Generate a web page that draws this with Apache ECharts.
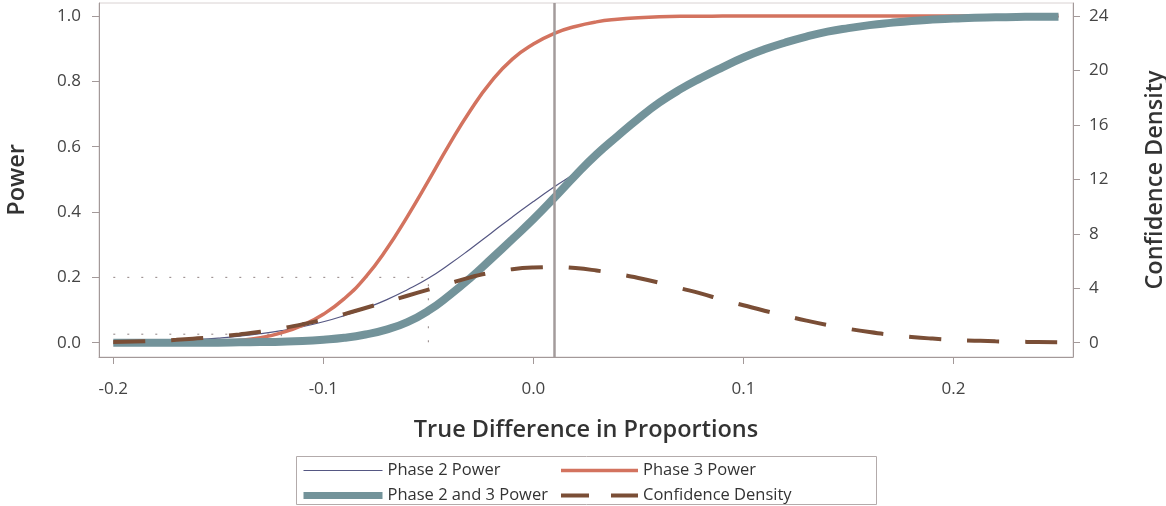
<!DOCTYPE html>
<html><head><meta charset="utf-8">
<script src="https://cdn.jsdelivr.net/npm/echarts@6/dist/echarts.min.js"></script>
<style>html,body{margin:0;padding:0;background:#fff}#c{width:1166px;height:506px}</style>
</head><body><div id="c"></div>
<script>
// x grid: true difference in proportions
const xValues = [-0.20,-0.19,-0.18,-0.17,-0.16,-0.15,-0.14,-0.13,-0.12,-0.11,-0.10,-0.09,-0.08,-0.07,-0.06,-0.05,-0.04,-0.03,-0.02,-0.01,0.00,0.01,0.02,0.03,0.04,0.05,0.06,0.07,0.08,0.09,0.10,0.11,0.12,0.13,0.14,0.15,0.16,0.17,0.18,0.19,0.20,0.21,0.22,0.23,0.24,0.25];
const phase2Power = [0.0017,0.0027,0.0042,0.0064,0.0097,0.0142,0.020,0.0275,0.037,0.049,0.064,0.083,0.105,0.131,0.162,0.197,0.240,0.287,0.336,0.385,0.432,0.477,0.520,0.574,0.632,0.686,0.735,0.776,0.811,0.843,0.873,0.898,0.919,0.937,0.952,0.963,0.972,0.979,0.985,0.989,0.992,0.995,0.996,0.997,0.998,0.998];
const phase3Power = [0.0000,0.0001,0.0003,0.0007,0.0015,0.0035,0.007,0.015,0.030,0.053,0.087,0.135,0.200,0.285,0.386,0.495,0.607,0.711,0.800,0.868,0.914,0.947,0.968,0.982,0.990,0.995,0.998,0.999,0.999,1.000,1.000,1.000,1.000,1.000,1.000,1.000,1.000,1.000,1.000,1.000,1.000,1.000,1.000,1.000,1.000,1.000];
const phase23Power = [0.000,0.000,0.000,0.000,0.000,0.000,0.001,0.002,0.003,0.005,0.009,0.015,0.025,0.040,0.063,0.098,0.145,0.198,0.257,0.317,0.378,0.444,0.512,0.576,0.632,0.686,0.735,0.776,0.811,0.843,0.873,0.898,0.919,0.937,0.952,0.963,0.972,0.979,0.985,0.989,0.992,0.995,0.996,0.997,0.998,0.998];
const confDensity = [0.05,0.08,0.13,0.21,0.32,0.45,0.61,0.80,1.05,1.35,1.70,2.10,2.55,3.00,3.45,3.90,4.35,4.80,5.15,5.40,5.52,5.55,5.48,5.30,5.05,4.75,4.40,4.00,3.60,3.15,2.75,2.35,1.98,1.62,1.30,1.02,0.78,0.58,0.42,0.30,0.21,0.15,0.10,0.07,0.05,0.03];
// reference (dotted) guide lines and observed difference
const refLine1 = [[-0.2,0.2],[-0.05,0.2],[-0.05,0.0]];
const refLine2 = [[-0.2,0.026],[-0.12,0.026],[-0.12,0.0]];
const observedDiff = 0.01;
const xTicks = [-0.2,-0.1,0,0.1,0.2];
const yTicks = [0,0.2,0.4,0.6,0.8,1.0];
const y2Ticks = [0,4,8,12,16,20,24];

const FONT = 'Open Sans';
const C_P2 = '#555783', C_P3 = '#d3735f', C_P23 = '#73939a', C_CD = '#7a4e36';
const pair = a => xValues.map((x,i)=>[x,a[i]]);
const axisLineColor = '#a39999';
const chart = echarts.init(document.getElementById('c'), null, {renderer:'canvas'});
const legendCommon = {orient:'vertical',top:462,itemHeight:16,itemGap:8,padding:0,
  itemStyle:{opacity:0,borderWidth:0},
  textStyle:{fontFamily:FONT,fontSize:16.5,color:'#333'}};
chart.setOption({
  animation:false,
  backgroundColor:'#fff',
  grid:{left:99,right:93,top:3,bottom:149,show:true,borderColor:'#d9d2d2',borderWidth:1,backgroundColor:'#fff',
        outerBoundsMode:'none',containLabel:false},
  xAxis:{type:'value',min:-0.2068,max:0.2569,
    name:'True Difference in Proportions',nameLocation:'middle',nameGap:61,
    nameTextStyle:{fontFamily:FONT,fontSize:23.5,color:'#333',fontWeight:600},
    axisLine:{show:true,onZero:false,lineStyle:{color:axisLineColor,width:1}},
    axisTick:{show:true,length:7,lineStyle:{color:axisLineColor},customValues:xTicks},
    axisLabel:{customValues:xTicks,margin:24,fontFamily:FONT,fontSize:17,color:'#444',formatter:v=>v.toFixed(1)},
    splitLine:{show:false}},
  yAxis:[
    {type:'value',min:-0.0438,max:1.0398,position:'left',
     name:'Power',nameLocation:'middle',nameGap:70,nameRotate:90,
     nameTextStyle:{fontFamily:FONT,fontSize:23.5,color:'#333',fontWeight:600},
     axisLine:{show:true,onZero:false,lineStyle:{color:axisLineColor}},
     axisTick:{show:true,length:7,lineStyle:{color:axisLineColor},customValues:yTicks},
     axisLabel:{customValues:yTicks,margin:18,fontFamily:FONT,fontSize:17,color:'#444',formatter:v=>v.toFixed(1)},
     splitLine:{show:false}},
    {type:'value',min:-1.051,max:24.955,position:'right',
     name:'Confidence Density',nameLocation:'middle',nameGap:70,nameRotate:90,
     nameTextStyle:{fontFamily:FONT,fontSize:23.5,color:'#333',fontWeight:600},
     axisLine:{show:true,onZero:false,lineStyle:{color:axisLineColor}},
     axisTick:{show:true,length:7,lineStyle:{color:axisLineColor},customValues:y2Ticks},
     axisLabel:{customValues:y2Ticks,margin:16,fontFamily:FONT,fontSize:17,color:'#444',formatter:v=>String(v)},
     splitLine:{show:false}}
  ],
  legend:[
    Object.assign({left:300,itemWidth:79,data:[
      {name:'Phase 2 Power',lineStyle:{width:1.2,color:C_P2}},
      {name:'Phase 2 and 3 Power',lineStyle:{width:7,color:C_P23}}]},legendCommon),
    Object.assign({left:559,itemWidth:77,data:[
      {name:'Phase 3 Power',lineStyle:{width:3.5,color:C_P3}},
      {name:'Confidence Density',lineStyle:{type:[28,22],width:4,color:C_CD}}]},legendCommon)
  ],
  graphic:[{type:'rect',shape:{x:296.5,y:456.5,width:580,height:48},style:{fill:null,stroke:'#b3abab',lineWidth:1},silent:true}],
  series:[
    {name:'ref1',type:'line',data:refLine1,symbol:'none',silent:true,
     lineStyle:{color:'#8f8282',width:1,type:[2,12]},z:1,
     markLine:{silent:true,symbol:'none',label:{show:false},
       lineStyle:{color:'#a39b9b',width:2.5,type:'solid'},data:[{xAxis:observedDiff}]}},
    {name:'ref2',type:'line',data:refLine2,symbol:'none',silent:true,
     lineStyle:{color:'#8f8282',width:1,type:[2,12]},z:1},
    {name:'Phase 2 Power',type:'line',data:pair(phase2Power),symbol:'none',smooth:0.5,
     lineStyle:{color:C_P2,width:1.2},itemStyle:{color:C_P2},z:2},
    {name:'Phase 3 Power',type:'line',data:pair(phase3Power),symbol:'none',smooth:0.5,
     lineStyle:{color:C_P3,width:3.5},itemStyle:{color:C_P3},z:2},
    {name:'Phase 2 and 3 Power',type:'line',data:pair(phase23Power),symbol:'none',smooth:0.5,
     lineStyle:{color:C_P23,width:8},itemStyle:{color:C_P23},z:2},
    {name:'Confidence Density',type:'line',yAxisIndex:1,data:pair(confDensity),symbol:'none',smooth:0.5,
     lineStyle:{color:C_CD,width:4,type:[32,26]},itemStyle:{color:C_CD},z:2}
  ]
});
</script></body></html>
